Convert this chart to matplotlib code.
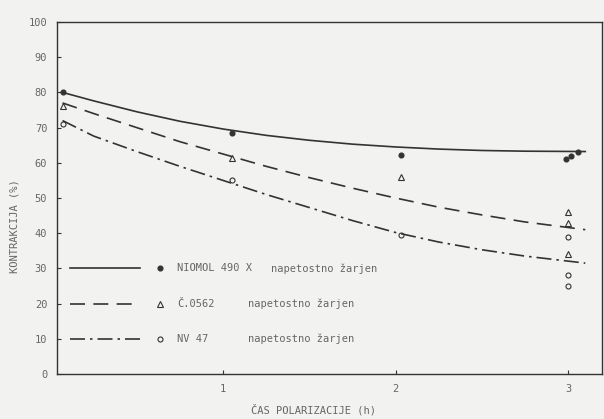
import matplotlib.pyplot as plt
import numpy as np

# measured points (x = hours, y = contraction %)
niomol_x = [0.07, 1.05, 2.03, 2.99, 3.02, 3.06]
niomol_y = [80, 68.5, 62.2, 61, 62, 63]
c0562_x = [0.07, 1.05, 2.03, 3.0, 3.0, 3.0]
c0562_y = [76, 61.5, 56, 46, 43, 34]
nv47_x = [0.07, 1.05, 2.03, 3.0, 3.0, 3.0]
nv47_y = [71, 55, 39.5, 39, 28, 25]

# fitted curves
curve_x = [0.07, 0.25, 0.5, 0.75, 1.0, 1.25, 1.5, 1.75, 2.0, 2.25, 2.5, 2.75, 3.1]
niomol_fit = [80, 77.6, 74.5, 71.8, 69.6, 67.8, 66.4, 65.3, 64.5, 63.9, 63.5, 63.3, 63.2]
c0562_fit = [77, 74, 70, 66, 62.5, 59, 55.8, 52.8, 50, 47.4, 45.2, 43.2, 41]
nv47_fit = [72, 67.6, 63.2, 59, 55, 51, 47.3, 43.6, 40.2, 37.5, 35.3, 33.5, 31.5]

names = ['NIOMOL 490 X', 'Č.0562', 'NV 47']
note_x = [1.28, 1.145, 1.145]
legend_y = [30, 20, 10]

bg = '#f2f2f0'
ink = '#333333'
txt = '#666666'
plt.rcParams['font.family'] = ['DejaVu Sans Mono']

fig = plt.figure(figsize=(6.04, 4.19), dpi=100, facecolor=bg)
ax = fig.add_axes([0.0944, 0.1074, 0.9023, 0.8401], facecolor=bg)

styles = ['-', (0, (9, 5)), (0, (9, 3, 1.5, 3))]
markers = [dict(marker='o', mfc=ink, mec=ink, ms=3.4),
           dict(marker='^', mfc='none', mec=ink, ms=4.2, mew=0.8),
           dict(marker='o', mfc='none', mec=ink, ms=3.6, mew=0.8)]
fits = [niomol_fit, c0562_fit, nv47_fit]
pts = [(niomol_x, niomol_y), (c0562_x, c0562_y), (nv47_x, nv47_y)]

for i in range(3):
    ax.plot(curve_x, fits[i], color=ink, lw=1.2, ls=styles[i])
    ax.plot(pts[i][0], pts[i][1], ls='none', **markers[i])

# hand-made legend inside the plot
for i in range(3):
    ax.plot([0.113, 0.519], [legend_y[i]] * 2, color=ink, lw=1.2, ls=styles[i])
    ax.plot([0.635], [legend_y[i]], ls='none', **markers[i])
    ax.text(0.733, legend_y[i], names[i], fontsize=7.5, color=txt, va='center')
    ax.text(note_x[i], legend_y[i], 'napetostno žarjen', fontsize=7.5,
            color=txt, va='center')

ax.set_xlim(0.038, 3.197)
ax.set_ylim(0, 100)
ax.set_xticks([1, 2, 3])
ax.set_yticks(np.arange(0, 101, 10))
ax.tick_params(direction='in', length=3, width=0.8, colors=ink, labelcolor=txt,
               labelsize=7.5, pad=7)
for s in ax.spines.values():
    s.set_color(ink)
    s.set_linewidth(1.0)

ax.set_ylabel('KONTRAKCIJA (%)', fontsize=7.5, color=txt)
ax.yaxis.set_label_coords(-0.068, 0.42)
ax.set_xlabel('ČAS POLARIZACIJE (h)', fontsize=7.5, color=txt)
ax.xaxis.set_label_coords(0.47, -0.085)

fig.savefig('out.png', dpi=100, facecolor=bg)
